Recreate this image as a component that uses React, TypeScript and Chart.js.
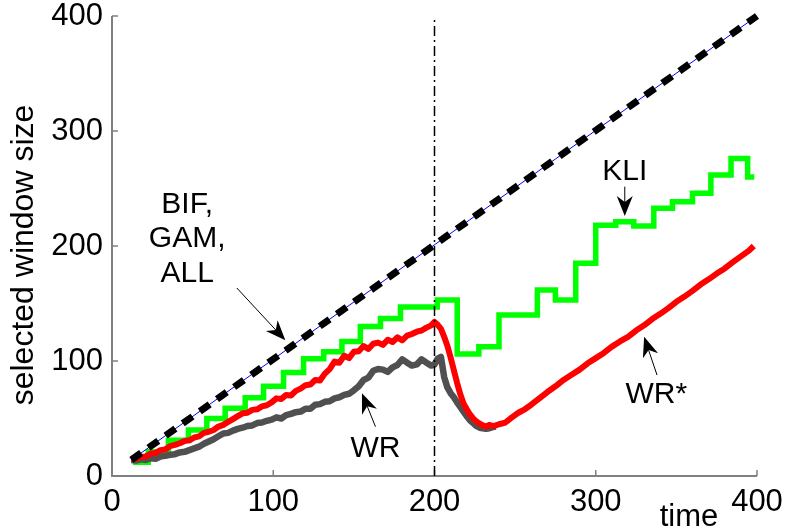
import React, { useEffect, useRef } from "react";
import { Chart, registerables } from "chart.js";

Chart.register(...registerables);

// ---------- data ----------
const xTickValues = [0, 100, 200, 300, 400];
const yTickValues = [0, 100, 200, 300, 400];

// BIF, GAM, ALL (identical diagonal)
const bifTime = [12, 400];
const bifSize = [14, 400];

// change point marker
const changeTime = [200, 200];
const changeSize = [0, 400];

// KLI (stepped)
const kliTime = [13, 22.5, 35, 47.4, 58.8, 70.2, 82.6, 94, 106.4, 118.8, 131.3, 142.6, 154, 166.5, 178.9, 201.7, 214.1, 227.5, 240, 263.8, 275, 287.6, 300, 312.4, 323.6, 336, 347.6, 360, 371.4, 383.9, 394.2, 398.3];
const kliSize = [12, 21, 31, 40, 50, 59, 68, 78, 90, 102, 108, 117, 130, 137, 147, 153, 106, 112.5, 140, 161.7, 153, 185, 218, 221, 217.4, 232.8, 238.5, 245.8, 261.7, 276, 260, 260];

// WR* (red)
const wrStarTime = [12, 15, 18, 21, 24, 27, 30, 33, 36, 39, 42, 45, 48, 51, 54, 57, 60, 63, 66, 69, 72, 75, 78, 81, 84, 87, 90, 93, 96, 99, 102, 105, 108, 111, 114, 117, 120, 123, 126, 129, 132, 135, 138, 141, 144, 147, 150, 153, 156, 159, 162, 165, 168, 171, 174, 177, 180, 183, 186, 189, 192, 195, 198, 200, 202, 204, 206, 208, 210, 212, 214, 216, 218, 220, 222, 224, 226, 228, 230, 232, 234, 236, 238, 240, 244, 248, 252, 256, 260, 265, 270, 275, 280, 285, 290, 295, 300, 305, 310, 315, 320, 325, 330, 335, 340, 345, 350, 355, 360, 365, 370, 375, 380, 385, 390, 395, 398];
const wrStarSize = [15.5, 15, 16.5, 17, 19.5, 20, 22.5, 23, 26, 27, 28.5, 30.5, 31, 33.5, 34.5, 37.5, 38.5, 40, 43, 44.5, 47, 49.5, 52, 54.5, 55, 57.5, 58, 60.5, 61.5, 64, 67.5, 67, 70.5, 70, 74, 76, 79, 79.5, 83.5, 83, 89, 93, 99.5, 98.5, 104.5, 102.5, 108, 108.5, 113, 110.5, 115, 116, 114, 118.5, 116.5, 120.5, 118, 122, 123.5, 125.5, 126.5, 129, 131, 134, 131.5, 128, 121, 113, 103, 92, 81, 71, 63, 58, 53.5, 50, 47.5, 45.5, 44, 43, 44.5, 43.5, 44, 45, 46.5, 51, 55, 58, 62, 67.5, 73, 78, 83.5, 88, 92.5, 98, 102.5, 107, 112.5, 117, 121, 126.5, 131, 136.5, 141, 146, 151.5, 156, 161, 166.5, 171, 176, 180.5, 186, 191, 196, 200];

// WR (gray)
const wrTime = [12, 15, 18, 21, 24, 27, 30, 33, 36, 39, 42, 45, 48, 51, 54, 57, 60, 63, 66, 69, 72, 75, 78, 81, 84, 87, 90, 93, 96, 99, 102, 105, 108, 111, 114, 117, 120, 123, 126, 129, 132, 135, 138, 141, 144, 147, 150, 153, 156, 159, 162, 165, 168, 171, 174, 177, 180, 183, 186, 189, 192, 195, 198, 200, 202, 204, 206, 208, 210, 212, 214, 216, 218, 220, 222, 224, 226, 228, 230, 232, 234, 236, 238];
const wrSize = [14, 13.5, 14.5, 14, 15.5, 15, 17, 17.5, 18.5, 19, 20.5, 21, 22.5, 24, 25.5, 28, 30, 32, 34.5, 37, 37.5, 39.5, 41, 42, 43.5, 44, 46, 46.5, 48, 49, 51, 50, 53, 54, 55.5, 56, 58.5, 58.5, 62, 62.5, 64.5, 65, 67.5, 68.5, 70.5, 71.5, 74.5, 78, 83.5, 85.5, 91.5, 93, 92.5, 90.5, 94.5, 96.5, 101.5, 98.5, 96, 97, 101.5, 98.5, 96, 97, 102, 103.5, 86, 77, 72, 68.5, 64, 60, 56, 52, 48.5, 46, 43.5, 42, 41.5, 41, 41.5, 42.5, 43];

// annotations (text in data coordinates, baseline)
const labelTexts = ["BIF,", "GAM,", "ALL", "KLI", "WR", "WR*"];
const labelX = [46.6, 46.6, 46.6, 318, 163.4, 337.6];
const labelY = [228.7, 199.4, 169, 257.4, 16.8, 63.5];
const arrowFromX = [77.4, 318, 163.4, 338];
const arrowFromY = [163.5, 251.6, 42.9, 87.8];
const arrowToX = [107.5, 318, 155, 330];
const arrowToY = [118, 226, 72, 121];

const xTitle = "time";
const yTitle = "selected window size";

const FONT = '"Liberation Sans", Arial, Helvetica, sans-serif';

const pts = (xs: number[], ys: number[]) => xs.map((x, i) => ({ x, y: ys[i] }));

function drawArrow(ctx: CanvasRenderingContext2D, x1: number, y1: number, x2: number, y2: number) {
  const ang = Math.atan2(y2 - y1, x2 - x1);
  const c = Math.cos(ang), s = Math.sin(ang);
  const L = 20, W = 8, notch = 6;
  ctx.beginPath();
  ctx.moveTo(x1, y1);
  ctx.lineTo(x2 - c * (L - notch), y2 - s * (L - notch));
  ctx.stroke();
  const bx = x2 - c * L, by = y2 - s * L;
  const nx = -s, ny = c;
  ctx.beginPath();
  ctx.moveTo(x2, y2);
  ctx.lineTo(bx + nx * W, by + ny * W);
  ctx.lineTo(x2 - c * (L - notch), y2 - s * (L - notch));
  ctx.lineTo(bx - nx * W, by - ny * W);
  ctx.closePath();
  ctx.fill();
}

const matlabPlugin = {
  id: "matlabAxes",
  beforeDatasetsDraw(chart: any) {
    const { ctx, chartArea, scales } = chart;
    const xs = scales.x, ys = scales.y;
    ctx.save();
    ctx.strokeStyle = "#808080";
    ctx.lineWidth = 2;
    ctx.beginPath();
    ctx.moveTo(chartArea.left, chartArea.top);
    ctx.lineTo(chartArea.left, chartArea.bottom);
    ctx.lineTo(chartArea.right, chartArea.bottom);
    ctx.stroke();
    ctx.lineWidth = 1.5;
    ctx.beginPath();
    yTickValues.forEach((v) => {
      const y = ys.getPixelForValue(v);
      ctx.moveTo(chartArea.left, y);
      ctx.lineTo(chartArea.left + 6, y);
    });
    xTickValues.forEach((v) => {
      const x = xs.getPixelForValue(v);
      ctx.moveTo(x, chartArea.bottom);
      ctx.lineTo(x, chartArea.bottom - 6);
    });
    ctx.stroke();
    ctx.restore();
  },
  afterDraw(chart: any) {
    const { ctx, chartArea, scales } = chart;
    const xs = scales.x, ys = scales.y;
    ctx.save();
    ctx.fillStyle = "#000";
    ctx.strokeStyle = "#000";
    ctx.lineWidth = 1;
    ctx.font = `30px ${FONT}`;
    ctx.textAlign = "center";
    ctx.textBaseline = "alphabetic";
    labelTexts.forEach((t, i) => {
      ctx.fillText(t, xs.getPixelForValue(labelX[i]), ys.getPixelForValue(labelY[i]));
    });
    arrowFromX.forEach((_, i) => {
      drawArrow(
        ctx,
        xs.getPixelForValue(arrowFromX[i]),
        ys.getPixelForValue(arrowFromY[i]),
        xs.getPixelForValue(arrowToX[i]),
        ys.getPixelForValue(arrowToY[i])
      );
    });
    // x title
    ctx.font = `31px ${FONT}`;
    ctx.fillText(xTitle, xs.getPixelForValue(357.8), chartArea.bottom + 50);
    // y title
    ctx.font = `32px ${FONT}`;
    ctx.translate(33, (chartArea.top + chartArea.bottom) / 2 + 9);
    ctx.rotate(-Math.PI / 2);
    ctx.fillText(yTitle, 0, 0);
    ctx.restore();
  },
};

const zeroPadding = (s: any) => {
  s.paddingTop = 0;
  s.paddingBottom = 0;
  s.paddingLeft = 0;
  s.paddingRight = 0;
};

export default function App() {
  const ref = useRef<HTMLCanvasElement>(null);
  useEffect(() => {
    if (!ref.current) return;
    const chart = new Chart(ref.current, {
      type: "line",
      data: {
        datasets: [
          {
            data: pts(changeTime, changeSize),
            borderColor: "#000",
            borderWidth: 1.5,
            borderDash: [10, 4, 2, 4],
            pointRadius: 0,
            clip: false as any,
          },
          {
            data: pts(bifTime, bifSize),
            borderColor: "#000",
            borderWidth: 7,
            borderDash: [12, 9],
            borderCapStyle: "butt",
            pointRadius: 0,
            clip: false as any,
          },
          {
            data: pts(bifTime, bifSize),
            borderColor: "#0000ff",
            borderWidth: 1,
            pointRadius: 0,
            clip: false as any,
          },
          {
            data: pts(wrStarTime, wrStarSize),
            borderColor: "#ff0000",
            borderWidth: 6,
            borderJoinStyle: "round",
            pointRadius: 0,
            clip: false as any,
          },
          {
            data: pts(wrTime, wrSize),
            borderColor: "#505050",
            borderWidth: 6.5,
            borderJoinStyle: "round",
            pointRadius: 0,
            clip: false as any,
          },
          {
            data: pts(kliTime, kliSize),
            borderColor: "#00ff00",
            borderWidth: 5.5,
            stepped: "before",
            pointRadius: 0,
            clip: false as any,
          },
        ],
      },
      options: {
        responsive: false,
        devicePixelRatio: 1,
        animation: false,
        layout: { padding: { top: 16, right: 30, left: 0, bottom: 0 } },
        plugins: { legend: { display: false }, tooltip: { enabled: false } },
        scales: {
          x: {
            type: "linear",
            min: 0,
            max: 400,
            afterBuildTicks: (s: any) => {
              s.ticks = xTickValues.map((v) => ({ value: v }));
            },
            ticks: {
              color: "#000",
              font: { family: FONT, size: 31, lineHeight: 1 },
              padding: 11,
              maxRotation: 0,
            },
            grid: { display: false, drawTicks: false },
            border: { display: false },
            afterFit: (s: any) => {
              s.height = 56;
              zeroPadding(s);
            },
          },
          y: {
            type: "linear",
            min: 0,
            max: 400,
            afterBuildTicks: (s: any) => {
              s.ticks = yTickValues.map((v) => ({ value: v }));
            },
            ticks: {
              color: "#000",
              font: { family: FONT, size: 31, lineHeight: 1 },
              padding: 9,
            },
            grid: { display: false, drawTicks: false },
            border: { display: false },
            afterFit: (s: any) => {
              s.width = 112;
              zeroPadding(s);
            },
          },
        },
      },
      plugins: [matlabPlugin],
    });
    return () => chart.destroy();
  }, []);
  return (
    <div style={{ position: "absolute", left: 0, top: 0, width: 787, height: 532, background: "#fff" }}>
      <canvas ref={ref} width={787} height={532} style={{ width: 787, height: 532, display: "block" }} />
    </div>
  );
}
